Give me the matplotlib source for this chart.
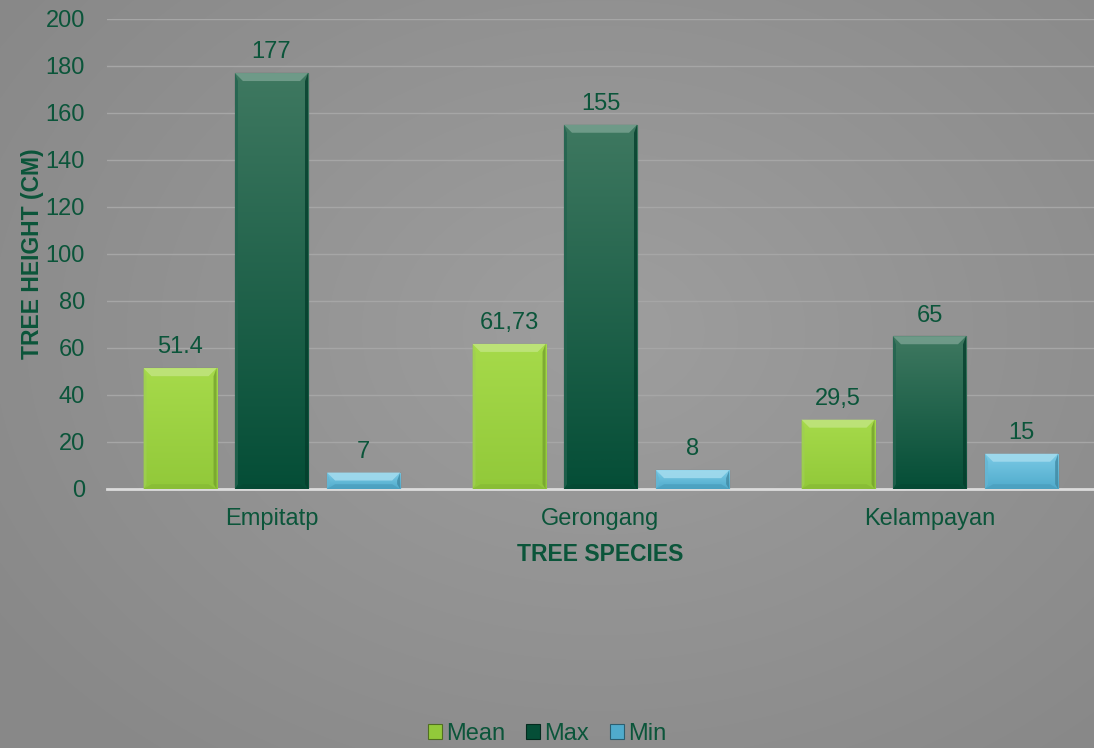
import numpy as np
import matplotlib.pyplot as plt
from matplotlib.patches import Polygon
from matplotlib.colors import to_rgb, LinearSegmentedColormap

plt.rcParams['font.family'] = ['Liberation Sans', 'DejaVu Sans']

species = ["Empitatp", "Gerongang", "Kelampayan"]
series = ["Mean", "Max", "Min"]
mean_vals = [51.4, 61.73, 29.5]
max_vals = [177, 155, 65]
min_vals = [7, 8, 15]
mean_labels = ["51.4", "61,73", "29,5"]
max_labels = ["177", "155", "65"]
min_labels = ["7", "8", "15"]

# top / bottom gradient colours for each series
colors = {
    "Mean": ("#a6da4a", "#92c93a"),
    "Max": ("#3e7860", "#054e37"),
    "Min": ("#7ccbe6", "#50abcc"),
}
text_green = "#0b553a"

fig = plt.figure(figsize=(10.94, 7.48), dpi=100)

# radial grey background
bg = fig.add_axes([0, 0, 1, 1], zorder=-10)
yy, xx = np.mgrid[0:748, 0:1094]
r = np.sqrt(((xx - 600) / 560.0) ** 2 + ((yy - 330) / 420.0) ** 2)
shade = 0.620 - 0.085 * np.clip(r / 1.3, 0, 1)
bg.imshow(np.dstack([shade] * 3), aspect="auto", interpolation="bilinear")
bg.axis("off")

ax = fig.add_axes([0.0978, 0.3463, 0.9022, 0.6283])
ax.patch.set_alpha(0)
ax.set_xlim(-0.5, 2.5)
ax.set_ylim(0, 200)
ax.set_yticks(range(0, 201, 20))
ax.yaxis.grid(True, color="#a6a6a6", linewidth=1)
ax.set_axisbelow(True)
for s in ["top", "right", "left"]:
    ax.spines[s].set_visible(False)
ax.spines["bottom"].set_color("#dcdcdc")
ax.spines["bottom"].set_linewidth(2)
ax.tick_params(length=0, labelsize=17, colors=text_green)
ax.tick_params(axis="y", pad=16)
ax.tick_params(axis="x", pad=14)
ax.set_xticks(range(len(species)))
ax.set_xticklabels(species)
ax.set_xlabel("TREE SPECIES", fontsize=16.5, fontweight="bold", color=text_green, labelpad=9)
ax.set_ylabel("TREE HEIGHT (CM)", fontsize=16.5, fontweight="bold", color=text_green, labelpad=1)

x = np.arange(len(species))
width = 0.222
offsets = [-0.278, 0.0, 0.28]
data = [(mean_vals, mean_labels), (max_vals, max_labels), (min_vals, min_labels)]

# bevel size in data units (~8 px)
bx = 8 / 329.0
by = 8 / 2.35
sx = 3 / 329.0


def lighten(c, f):
    c = np.array(to_rgb(c))
    return tuple(c + (1 - c) * f)


def darken(c, f):
    return tuple(np.array(to_rgb(c)) * (1 - f))


handles = []
for name, off, (vals, labels) in zip(series, offsets, data):
    top, bot = colors[name]
    bars = ax.bar(x + off, vals, width, color=bot, zorder=3, label=name,
                  edgecolor=darken(bot, 0.45), linewidth=0.8)
    handles.append(bars)
    cmap = LinearSegmentedColormap.from_list("g" + name, [bot, top])
    for b, lab in zip(bars, labels):
        x0, w, h = b.get_x(), b.get_width(), b.get_height()
        grad = np.linspace(0, 1, 64).reshape(-1, 1)
        im = ax.imshow(grad, cmap=cmap, extent=[x0, x0 + w, 0, h], origin="lower",
                       aspect="auto", zorder=3.1, interpolation="bilinear")
        im.set_clip_path(b)
        d = min(by, h / 2)
        # top bevel
        ax.add_patch(Polygon([[x0, h], [x0 + w, h], [x0 + w - bx, h - d], [x0 + bx, h - d]],
                             closed=True, color=lighten(top, 0.28), zorder=3.2, lw=0, alpha=0.9))
        # bottom bevel
        ax.add_patch(Polygon([[x0, 0], [x0 + w, 0], [x0 + w - bx, d * 0.6], [x0 + bx, d * 0.6]],
                             closed=True, color=darken(bot, 0.08), zorder=3.2, lw=0, alpha=0.7))
        # side bevels
        ax.add_patch(Polygon([[x0, h], [x0 + sx, h - d], [x0 + sx, d * 0.6], [x0, 0]],
                             closed=True, color=lighten(bot, 0.12), zorder=3.2, lw=0, alpha=0.8))
        ax.add_patch(Polygon([[x0 + w, h], [x0 + w - sx, h - d], [x0 + w - sx, d * 0.6], [x0 + w, 0]],
                             closed=True, color=darken(bot, 0.2), zorder=3.2, lw=0, alpha=0.8))
        ax.annotate(lab, (x0 + w / 2, h), xytext=(0, 7), textcoords="offset points",
                    ha="center", va="bottom", fontsize=17, color=text_green, zorder=5)

leg = fig.legend(handles=handles, labels=series, loc="lower center", ncol=3,
                 bbox_to_anchor=(0.5, -0.024), frameon=False, fontsize=17,
                 handlelength=0.6, handleheight=0.6, handletextpad=0.15, columnspacing=0.9)
for t in leg.get_texts():
    t.set_color(text_green)

fig.savefig("out.png", dpi=100)
